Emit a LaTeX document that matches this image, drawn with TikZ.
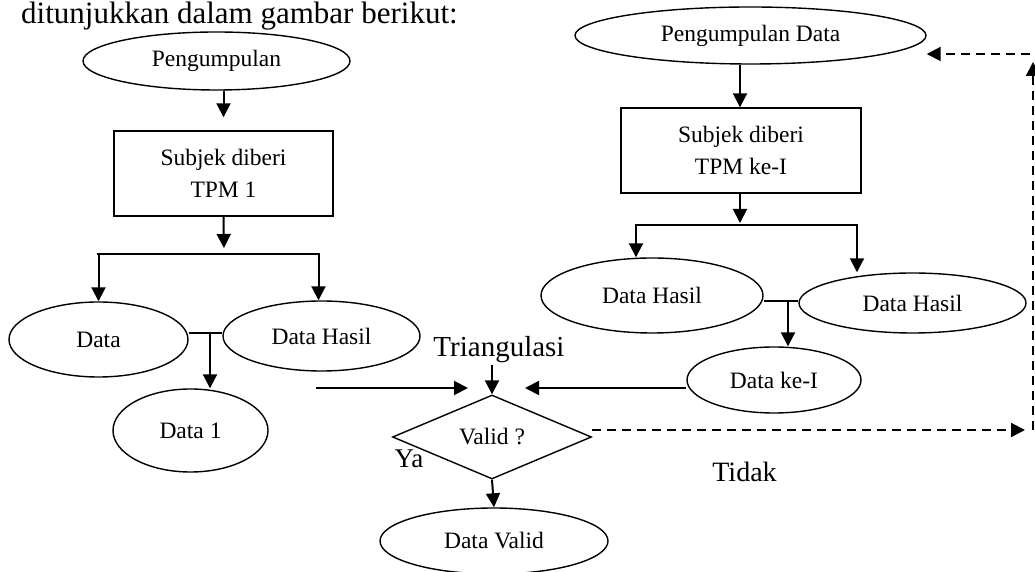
\documentclass[tikz,border=0pt]{standalone}
\usepackage{fontspec}
\setmainfont{Liberation Serif}
\usetikzlibrary{positioning,shapes.geometric,arrows.meta}

\begin{document}
\begin{tikzpicture}[x=1pt,y=1pt,
		elips/.style={draw, ellipse, line width=1.4pt, inner sep=0pt, font=\fontsize{23.5}{32}\selectfont},
		kotak/.style={draw, rectangle, line width=1.4pt, align=center, inner sep=0pt, font=\fontsize{23.5}{32}\selectfont},
		belah/.style={draw, diamond, aspect=2.37, line width=1.4pt, inner sep=0pt, minimum width=199pt, minimum height=84pt, font=\fontsize{23.5}{32}\selectfont},
		panah/.style={-{Triangle[length=14pt,width=14pt]}, line width=2pt},
		putus/.style={panah, dash pattern=on 9pt off 6pt},
		garis/.style={line width=2pt}]
	\useasboundingbox (0,0) rectangle (1035,572);
	\node[anchor=base west, inner sep=0pt, font=\fontsize{31}{36}\selectfont] (judul) at (21,548) {ditunjukkan dalam gambar berikut:};
	% kolom kiri
	\node[elips, minimum width=267pt, minimum height=58pt] (pl) at (216.5,511) {Pengumpulan};
	\node[kotak, minimum width=219pt, minimum height=85pt] (sl) at (223.5,398.5) {Subjek diberi\\TPM 1};
	\node[elips, minimum width=179pt, minimum height=75pt] (dl) at (98.5,232.5) {Data};
	\node[elips, minimum width=197pt, minimum height=70pt] (dh) at (321.5,236) {Data Hasil};
	\node[elips, minimum width=155pt, minimum height=83pt] (d1) at (190.5,141.5) {Data 1};
	\coordinate (bl) at (224,318);
	\coordinate (jl) at (210,239);
	\coordinate (masuk) at (316,184);
	\draw[panah, shorten >=13pt] (sl.north |- pl.south) -- (sl.north);
	\draw[panah, shorten >=6pt] (sl.south) -- (bl);
	\draw[garis] ([xshift=-2pt]bl -| dl.north) -- ([xshift=-2pt]bl -| dh.north);
	\draw[panah] (bl -| dl.north) -- (dl.north);
	\draw[panah] ([xshift=-3pt]bl -| dh.north) -- ([xshift=-3pt]dh.north);
	\draw[garis] (jl -| dl.east) -- (jl -| dh.west);
	\draw[panah] (jl) -- (jl |- d1.north);
	% tengah
	\node[anchor=base, inner sep=0pt, font=\fontsize{29}{34}\selectfont] (tri) at (499,215) {Triangulasi};
	\node[belah] (vd) at (492,135) {Valid ?};
	\node[elips, minimum width=228pt, minimum height=66pt] (dv) at (494,31) {Data Valid};
	\node[anchor=base, inner sep=0pt, font=\fontsize{27}{32}\selectfont] (ya) at (409,104) {Ya};
	\node[anchor=base, inner sep=0pt, font=\fontsize{28}{32}\selectfont] (tidak) at (744.5,90) {Tidak};
	\coordinate (titik) at (492,184);
	\draw[panah, shorten <=2pt] (tri.south -| vd.north) -- (vd.north);
	\draw[panah, shorten >=24pt] (masuk) -- (titik);
	\draw[panah] (vd.south) -- (dv.north);
	% kolom kanan
	\node[elips, minimum width=351pt, minimum height=57pt] (pd) at (750.5,536.5) {Pengumpulan Data};
	\node[kotak, minimum width=240pt, minimum height=85pt] (sr) at (741,421.5) {Subjek diberi\\TPM ke-I};
	\node[elips, minimum width=222pt, minimum height=75pt] (dr1) at (652,276.5) {Data Hasil};
	\node[elips, minimum width=227pt, minimum height=60pt] (dr2) at (912.5,269) {Data Hasil};
	\node[elips, minimum width=174pt, minimum height=66pt] (dk) at (774,192) {Data ke-I};
	\coordinate (br) at (740,347);
	\coordinate (ba) at (636,347);
	\coordinate (bb) at (857,347);
	\coordinate (jr) at (788,271);
	\coordinate (pojok) at (1033,142);
	\coordinate (kanan) at (1045,518);
	\draw[panah] (pd.south -| br) -- (sr.north -| br);
	\draw[panah, shorten >=2pt] (sr.south -| br) -- (br);
	\draw[garis] ([xshift=-1pt]ba) -- ([xshift=1pt]bb);
	\draw[panah] (ba) -- (ba |- dr1.north);
	\draw[panah] (bb) -- (bb |- dr2.north);
	\draw[garis] (jr -| dr1.east) -- (jr -| dr2.west);
	\draw[panah] (jr) -- (jr |- dk.north);
	\draw[panah, shorten >=33pt] (dk.west |- titik) -- (titik);
	\draw[putus, shorten >=8pt] (vd.east |- pojok) -- (pojok);
	\draw[putus] (pojok) -- (1033,510);
	\draw[putus] (kanan) -- (kanan -| pd.east);
\end{tikzpicture}
\end{document}
